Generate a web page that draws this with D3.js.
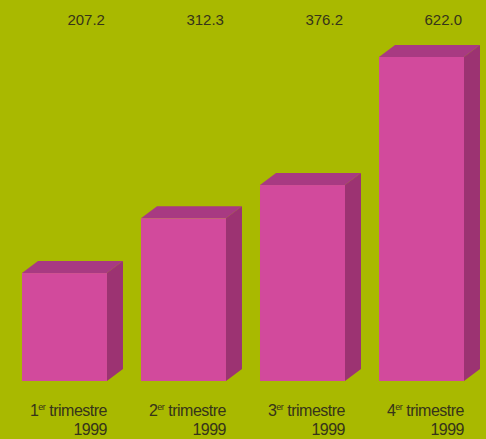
<!DOCTYPE html>
<html>
<head>
<meta charset="UTF-8">
<script src="https://cdn.jsdelivr.net/npm/d3@7"></script>
<style>
  body { margin: 0; background: #a9b900; }
  svg { display: block; }
  text { font-family: "Liberation Sans", Arial, sans-serif; fill: #36341a; }
</style>
</head>
<body>
<svg width="486" height="439"></svg>
<script>
// données
var quarters = ["1", "2", "3", "4"];
var values = [207.2, 312.3, 376.2, 622.0];
var labels = ["207.2", "312.3", "376.2", "622.0"];
var year = "1999";

var svg = d3.select("svg");
var baseline = 381, topY = 57;
var dx = 16, dy = 12; // profondeur 3D

svg.append("rect").attr("width", 486).attr("height", 439).attr("fill", "#a9b900");

var x = d3.scaleBand().domain(quarters).range([22, 464]).paddingInner(0.286).paddingOuter(0);
var y = d3.scaleLinear().domain([0, d3.max(values)]).range([baseline, topY]);

var data = quarters.map(function(q, i) { return { q: q, v: values[i], label: labels[i] }; });

var bars = svg.selectAll(".bar").data(data).enter().append("g").attr("class", "bar");

// face du dessus
bars.append("path")
  .attr("fill", "#a83a82")
  .attr("d", function(d) {
    var x0 = x(d.q), x1 = x0 + x.bandwidth(), yt = y(d.v);
    return "M" + x0 + "," + yt + "L" + (x0 + dx) + "," + (yt - dy) +
           "L" + (x1 + dx) + "," + (yt - dy) + "L" + x1 + "," + yt + "Z";
  });

// côté
bars.append("path")
  .attr("fill", "#9c3372")
  .attr("d", function(d) {
    var x1 = x(d.q) + x.bandwidth(), yt = y(d.v);
    return "M" + x1 + "," + yt + "L" + (x1 + dx) + "," + (yt - dy) +
           "L" + (x1 + dx) + "," + (baseline - dy) + "L" + x1 + "," + baseline + "Z";
  });

// face avant
bars.append("rect")
  .attr("fill", "#d24a9c")
  .attr("x", function(d) { return x(d.q); })
  .attr("y", function(d) { return y(d.v); })
  .attr("width", x.bandwidth())
  .attr("height", function(d) { return baseline - y(d.v); });

// valeurs en haut
svg.selectAll(".val").data(data).enter().append("text")
  .attr("class", "val")
  .attr("x", function(d) { return x(d.q) + x.bandwidth() - 2; })
  .attr("y", 25)
  .attr("text-anchor", "end")
  .attr("font-size", "15px")
  .text(function(d) { return d.label; });

// étiquettes
var cat = svg.selectAll(".cat").data(data).enter().append("text")
  .attr("class", "cat")
  .attr("text-anchor", "end")
  .attr("font-size", "16px")
  .attr("letter-spacing", "-0.5px");

cat.append("tspan")
  .attr("x", function(d) { return x(d.q) + x.bandwidth(); })
  .attr("y", 416)
  .text(function(d) { return d.q; });
cat.append("tspan")
  .attr("font-size", "9px")
  .attr("dy", -6)
  .text("er");
cat.append("tspan")
  .attr("dy", 6)
  .text(" trimestre");
cat.append("tspan")
  .attr("x", function(d) { return x(d.q) + x.bandwidth(); })
  .attr("y", 435)
  .text(year);
</script>
</body>
</html>
